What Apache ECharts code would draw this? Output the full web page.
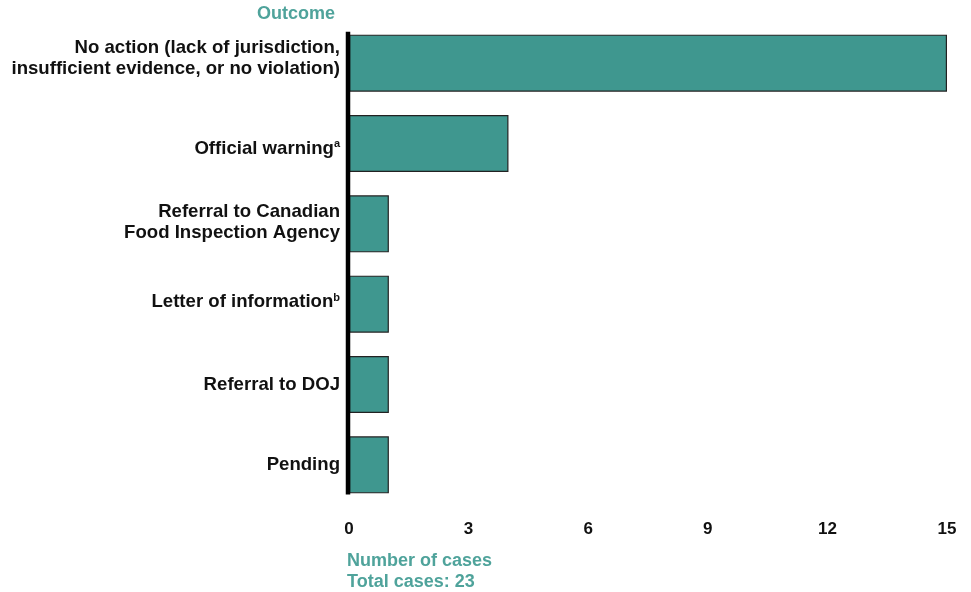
<!DOCTYPE html>
<html><head><meta charset="utf-8">
<script src="https://cdn.jsdelivr.net/npm/echarts@6/dist/echarts.min.js"></script>
<style>html,body{margin:0;padding:0;background:#fff}#c{width:971px;height:592px}</style>
</head><body><div id="c"></div>
<script>
const categories = [
  'No action (lack of jurisdiction,\ninsufficient evidence, or no violation)',
  'Official warning{sup|a}',
  'Referral to Canadian\nFood Inspection Agency',
  'Letter of information{sup|b}',
  'Referral to DOJ',
  'Pending'
];
const values = [15, 4, 1, 1, 1, 1];
const xTicks = [0, 3, 6, 9, 12, 15];

const teal = '#3f978f';
const labelPads = [[0, 0, 10, 0], [10, 0, 0, 0], [0, 0, 2, 0], [0, 0, 4, 0], [0, 0, 0, 0], [0, 0, 0, 0]];
const chart = echarts.init(document.getElementById('c'));
chart.setOption({
  animation: false,
  textStyle: { fontFamily: 'Liberation Sans, Arial, sans-serif' },
  title: [
    { text: 'Outcome', left: 252, top: 0, textStyle: { color: '#4fa39b', fontSize: 18, fontWeight: 'bold', fontFamily: 'Liberation Sans' } },
    { text: 'Number of cases\nTotal cases: 23', left: 342, top: 546, textStyle: { color: '#4fa39b', fontSize: 18, fontWeight: 'bold', lineHeight: 21, fontFamily: 'Liberation Sans' } }
  ],
  grid: { left: 349, right: 24, top: 23, bottom: 87, containLabel: false },
  xAxis: {
    type: 'value', min: 0, max: 15, interval: 3,
    axisLine: { show: false }, axisTick: { show: false }, splitLine: { show: false },
    axisLabel: { margin: 16, color: '#111', fontSize: 17, fontWeight: 'bold', fontFamily: 'Liberation Sans',
      formatter: v => xTicks.includes(v) ? String(v) : '' }
  },
  yAxis: {
    type: 'category', inverse: true,
    data: categories.map((c, i) => ({ value: c, textStyle: { padding: labelPads[i] } })),
    axisLine: { show: false }, axisTick: { show: false },
    axisLabel: { margin: 9, color: '#111', fontSize: 18.6, fontWeight: 'bold', lineHeight: 21, align: 'right',
      fontFamily: 'Liberation Sans',
      rich: { sup: { fontSize: 11, fontWeight: 'bold', color: '#111', padding: [0, 0, 9, 0], fontFamily: 'Liberation Sans' } } }
  },
  series: [{
    type: 'bar', data: values, barCategoryGap: '29%',
    itemStyle: { color: teal, borderColor: '#222', borderWidth: 1.2 }
  }]
});
// thick baseline along the value 0, spanning from top of first bar to bottom of last bar
const p0 = chart.convertToPixel({ gridIndex: 0 }, [0, 0]);
const p1 = chart.convertToPixel({ gridIndex: 0 }, [0, 1]);
const pn = chart.convertToPixel({ gridIndex: 0 }, [0, categories.length - 1]);
const band = p1[1] - p0[1];
chart.setOption({
  graphic: [{
    type: 'line', z: 100,
    shape: { x1: p0[0] - 1, y1: p0[1] - band * 0.39, x2: p0[0] - 1, y2: pn[1] + band * 0.37 },
    style: { stroke: '#000', lineWidth: 4.5 }
  }]
});
</script></body></html>
